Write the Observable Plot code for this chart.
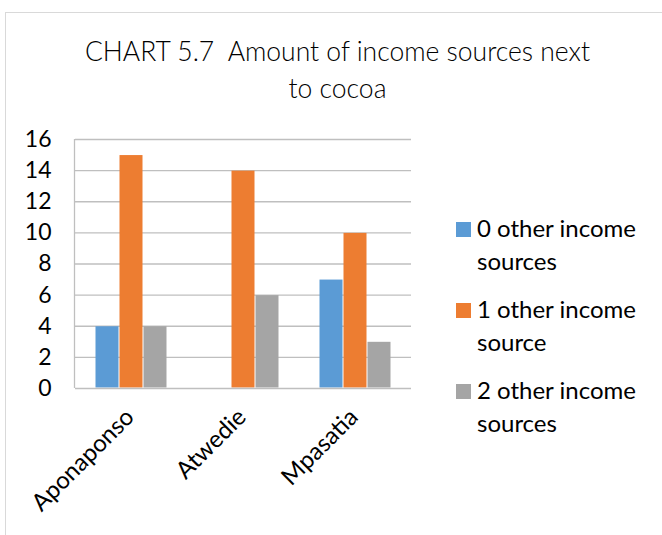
<!DOCTYPE html>
<html>
<head>
<meta charset="utf-8">
<script src="https://cdn.jsdelivr.net/npm/d3@7"></script>
<script src="https://cdn.jsdelivr.net/npm/@observablehq/plot@0.6"></script>
<style>
  html, body { margin: 0; padding: 0; background: #fff; }
  #wrap { position: relative; width: 662px; height: 535px; overflow: hidden; font-family: Lato, "Open Sans", sans-serif; color: #000; }
  #frame { position: absolute; left: 5px; top: 12px; width: 700px; height: 600px; border: 1px solid #d9d9d9; box-sizing: border-box; }
  #title { position: absolute; left: 30px; width: 615px; top: 33px; text-align: center; font-size: 26.5px; font-weight: 300; line-height: 37px; color: #000; }
  #chart { position: absolute; left: 0; top: 0; }
  #legend { position: absolute; left: 456px; top: 211px; font-size: 24px; line-height: 33px; }
  .item { position: relative; padding-left: 21px; margin-bottom: 15px; }
  .sw { position: absolute; left: 0; top: 11px; width: 15px; height: 15px; }
</style>
</head>
<body>
<div id="wrap">
  <div id="frame"></div>
  <div id="chart"></div>
  <div id="title">CHART 5.7&nbsp; Amount of income sources next<br>to cocoa</div>
  <div id="legend"></div>
</div>
<script>
const sites = ["Aponaponso", "Atwedie", "Mpasatia"];
const seriesNames = ["0 other income sources", "1 other income source", "2 other income sources"];
const legendLines = [["0 other income", "sources"], ["1 other income", "source"], ["2 other income", "sources"]];
const colors = ["#5B9BD5", "#ED7D31", "#A5A5A5"];
const zeroOther = [4, 0, 7];
const oneOther = [15, 14, 10];
const twoOther = [4, 6, 3];
const yTicks = [0, 2, 4, 6, 8, 10, 12, 14, 16];

const values = [zeroOther, oneOther, twoOther];
const data = [];
sites.forEach((s, i) => seriesNames.forEach((n, j) => data.push({site: s, series: n, value: values[j][i]})));

const plot = Plot.plot({
  width: 662,
  height: 535,
  marginLeft: 74,
  marginRight: 250,
  marginTop: 139,
  marginBottom: 147,
  style: {fontFamily: "Lato, 'Open Sans', sans-serif", fontSize: "23px", color: "#000", background: "transparent"},
  fx: {domain: sites, padding: 0, axis: null},
  x: {domain: seriesNames, paddingInner: 0, paddingOuter: 0.75, axis: null},
  y: {domain: [0, 16], axis: null},
  color: {domain: seriesNames, range: colors},
  marks: [
    Plot.ruleY(yTicks.filter(d => d > 0), {stroke: "#bfbfbf", strokeWidth: 1.3}),
    Plot.barY(data, {fx: "site", x: "series", y: "value", fill: "series", inset: 0.5}),
    Plot.ruleY([0], {stroke: "#bfbfbf", strokeWidth: 1.5}),
    Plot.axisY(yTicks, {tickSize: 0, tickPadding: 24, fontSize: 23, fill: "#000", label: null}),
    Plot.text(sites, {fx: d => d, frameAnchor: "bottom", text: d => d, rotate: -45, textAnchor: "end", dy: 30, dx: 4, fontSize: 24, fill: "#000"})
  ]
});
document.getElementById("chart").appendChild(plot);

// left frame line of plot area
const svg = d3.select(plot);
svg.append("line").attr("x1", 74.5).attr("x2", 74.5).attr("y1", 139).attr("y2", 388).attr("stroke", "#bfbfbf").attr("stroke-width", 1.3);

const legend = document.getElementById("legend");
legendLines.forEach((lines, i) => {
  const item = document.createElement("div");
  item.className = "item";
  const sw = document.createElement("div");
  sw.className = "sw";
  sw.style.background = colors[i];
  item.appendChild(sw);
  const t = document.createElement("div");
  t.innerHTML = lines.join("<br>");
  item.appendChild(t);
  legend.appendChild(item);
});
</script>
</body>
</html>
